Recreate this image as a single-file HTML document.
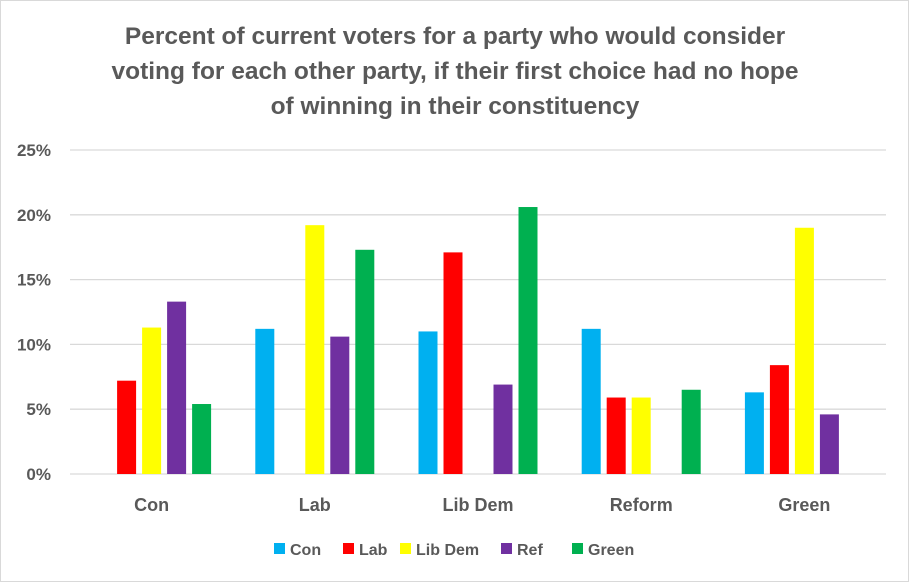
<!DOCTYPE html>
<html><head><meta charset="utf-8"><style>
body{margin:0;background:#fff}
svg{display:block;font-family:"Liberation Sans",sans-serif}
</style></head><body>
<svg width="909" height="582">
<rect x="0.5" y="0.5" width="908" height="581" fill="#fff" stroke="#d9d9d9"/>
<g font-size="24.5" font-weight="bold" fill="#595959" text-anchor="middle">
<text x="455" y="44">Percent of current voters for a party who would consider</text>
<text x="455" y="79">voting for each other party, if their first choice had no hope</text>
<text x="455" y="114">of winning in their constituency</text>
</g>
<g id="grid"></g><g id="bars"></g><g id="ylab"></g><g id="xlab"></g><g id="legend"></g>
</svg>
<script>
const categories=["Con","Lab","Lib Dem","Reform","Green"];
const seriesNames=["Con","Lab","Lib Dem","Ref","Green"];
const colors=["#00b0f0","#ff0000","#ffff00","#7030a0","#00b050"];
const conVals=[0,7.2,11.3,13.3,5.4];
const labVals=[11.2,0,19.2,10.6,17.3];
const libdemVals=[11.0,17.1,0,6.9,20.6];
const refVals=[11.2,5.9,5.9,0,6.5];
const greenVals=[6.3,8.4,19.0,4.6,0];
const groups=[conVals,labVals,libdemVals,refVals,greenVals];
const ticks=[0,5,10,15,20,25];
const NS="http://www.w3.org/2000/svg";
const x0=70,x1=886,y0=474,y25=150;
const yS=v=>y0-(v/25)*(y0-y25);
const cw=(x1-x0)/categories.length;
const xC=i=>x0+cw*(i+0.5);
function mk(t,a,p){const e=document.createElementNS(NS,t);for(const k in a)e.setAttribute(k,a[k]);p.appendChild(e);return e;}
const g=document.getElementById('grid'),b=document.getElementById('bars'),yl=document.getElementById('ylab'),xl=document.getElementById('xlab'),lg=document.getElementById('legend');
ticks.forEach(t=>{
 const l=mk('line',{x1:x0,x2:x1,y1:yS(t),y2:yS(t),stroke:'#d9d9d9','stroke-width':1.3},g);
 
 
 const tx=mk('text',{x:51,y:yS(t)+6,'text-anchor':'end','font-size':17,'font-weight':'bold',fill:'#595959'},yl);
 tx.textContent=t+'%';
 
 
});
groups.forEach((vals,i)=>{
 vals.forEach((v,j)=>{
  if(v<=0)return;
  const x=xC(i)+(j-2)*25-9.5;
  const r=mk('rect',{x:x,y:yS(v),width:19,height:y0-yS(v),fill:colors[j]},b);
  
  
 });
 const t=mk('text',{x:xC(i),y:511,'text-anchor':'middle','font-size':18,'font-weight':'bold',fill:'#595959'},xl);
 t.textContent=categories[i];
 
 
});
const lx=[274,343,400,501,572];
seriesNames.forEach((n,j)=>{
 const gg=mk('g',{},lg);
 
 
 mk('rect',{x:lx[j],y:543,width:11,height:11,fill:colors[j]},gg);
 const t=mk('text',{x:lx[j]+16,y:555,'font-size':16,'font-weight':'bold',fill:'#595959'},gg);
 t.textContent=n;
});
</script>
</body></html>
